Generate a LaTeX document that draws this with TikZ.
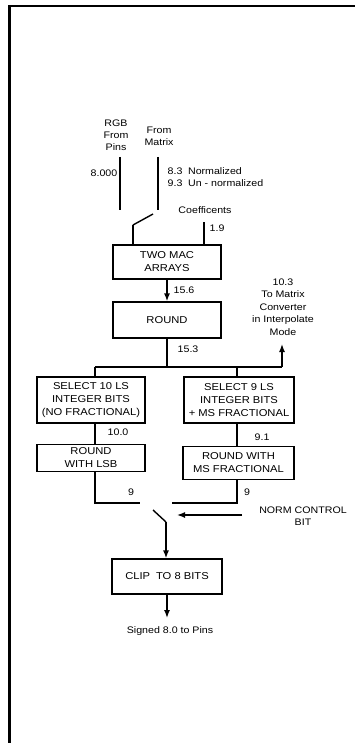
\documentclass[tikz,border=0pt]{standalone}
\usepackage{fontspec}
\setmainfont{Liberation Sans}[FakeStretch=1.12]
\usetikzlibrary{arrows.meta}
\tikzset{
	blok/.style={draw, line width=1.2pt, align=center, inner sep=1pt, font=\fontsize{10}{13}\selectfont},
	lbl/.style={inner sep=0pt, align=center, font=\fontsize{9.5}{12}\selectfont},
	arr/.style={-{Latex[length=8pt,width=6pt]}}
}
\begin{document}
\begin{tikzpicture}[x=1pt,y=-1pt,line width=1.4pt]
		\useasboundingbox (0,0) rectangle (355,743);
		% frame
		\draw[line width=2.2pt] (355,6) -- (9.5,6) -- (9.5,743);
		% inputs
		\node[lbl] at (116,135) (rgb) {RGB\\From\\Pins};
		\node[lbl] at (159,136) (mtx) {From\\Matrix};
		\node[lbl,anchor=east] at (118,173) (n8) {8.000};
		\node[lbl,anchor=west,align=left] at (167,177.5) (nrm) {8.3\; Normalized\\9.3\; Un - normalized};
		\node[lbl] at (205,210) (coef) {Coefficents};
		\node[lbl,anchor=west] at (209,228) (n19) {1.9};
		\coordinate (rgbt) at (120,157);
		\coordinate (rgbb) at (120,210);
		\coordinate (mtxt) at (158,157);
		\coordinate (mtxb) at (158,210);
		\coordinate (sw1) at (133,225);
		\coordinate (sw2) at (153,214);
		\coordinate (coft) at (204,222);
		\draw (rgbt) -- (rgbb);
		\draw (mtxt) -- (mtxb);
		\draw (sw1) -- (sw2);
		% blocks
		\node[blok,minimum width=108pt,minimum height=34pt] at (167,262) (mac) {TWO MAC\\ARRAYS};
		\node[blok,minimum width=108pt,minimum height=36pt] at (167,320) (rnd) {ROUND};
		\node[blok,minimum width=108pt,minimum height=46pt] at (91,400) (sel10) {SELECT 10 LS\\INTEGER BITS\\(NO FRACTIONAL)};
		\node[blok,minimum width=110pt,minimum height=46pt] at (239,400) (sel9) {SELECT 9 LS\\INTEGER BITS\\+ MS FRACTIONAL};
		\node[blok,minimum width=108pt,minimum height=27pt] at (91,458) (rlsb) {ROUND\\WITH LSB};
		\node[blok,minimum width=111pt,minimum height=33pt] at (238.5,463) (rms) {ROUND WITH\\MS FRACTIONAL};
		\node[blok,minimum width=110pt,minimum height=35pt] at (167,576.5) (clip) {CLIP\; TO 8 BITS};
		\draw (sw1) -- (sw1 |- mac.north);
		\draw (coft) -- (coft |- mac.north);
		% round and split
		\draw[arr] (mac.south) -- (rnd.north);
		\node[lbl,anchor=west] at (173,290) (n156) {15.6};
		\coordinate (lx) at (95,367);
		\coordinate (rx) at (237,367);
		\coordinate (mx) at (282,367);
		\coordinate (mtip) at (282,344);
		\draw (rnd.south) -- (rnd.south |- lx);
		\node[lbl,anchor=west] at (177,349) (n153) {15.3};
		\draw (lx) -- (mx);
		\draw[arr] (mx) -- (mtip);
		\node[lbl,font=\fontsize{9.5}{12.5}\selectfont] at (283,307) (conv) {10.3\\To Matrix\\Converter\\in Interpolate\\Mode};
		\draw (lx) -- (lx |- sel10.north);
		\draw (rx) -- (rx |- sel9.north);
		% select and round
		\draw (lx |- sel10.south) -- (lx |- rlsb.north);
		\node[lbl,anchor=west] at (107,432) (n100) {10.0};
		\draw (rx |- sel9.south) -- (rx |- rms.north);
		\node[lbl,anchor=west] at (254,437) (n91) {9.1};
		\coordinate (lend) at (140,503);
		\coordinate (rend) at (172,503);
		\draw (lx |- rlsb.south) |- (lend);
		\draw (rx |- rms.south) |- (rend);
		\node[lbl] at (131,492) (n9a) {9};
		\node[lbl] at (247,492) (n9b) {9};
		% output switch
		\coordinate (os1) at (153,510);
		\coordinate (os2) at (166,522);
		\draw (os1) -- (os2);
		\draw[arr] (os2) -- (os2 |- clip.north);
		\coordinate (ncs) at (242,515);
		\coordinate (nct) at (177,515);
		\draw[arr] (ncs) -- (nct);
		\node[lbl] at (303,516) (norm) {NORM CONTROL\\BIT};
		\coordinate (outp) at (167,618);
		\draw[arr] (clip.south) -- (outp);
		\node[lbl] at (170,631) (pins) {Signed 8.0 to Pins};
	\end{tikzpicture}
\end{document}
